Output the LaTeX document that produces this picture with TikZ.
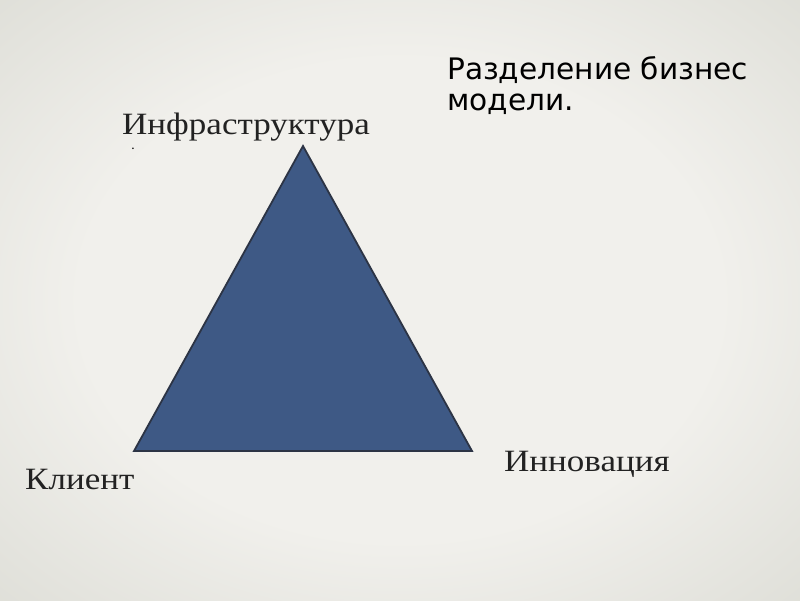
\documentclass[tikz,border=0pt]{standalone}
\usepackage{fontspec}
\setmainfont{Liberation Serif}[FakeStretch=1.13]
\newfontfamily\titlefont{DejaVu Sans}
\definecolor{bgmid}{HTML}{F1F0EC}
\definecolor{bgedge}{HTML}{CFD0C7}
\definecolor{bgcorner}{HTML}{BDBEB4}
\definecolor{trifill}{HTML}{3E5985}
\definecolor{triline}{HTML}{2C3445}
\definecolor{inktext}{HTML}{222222}
\pgfdeclareradialshading{slidebg}{\pgfpoint{0bp}{0bp}}{color(0bp)=(bgmid); color(20bp)=(bgmid); color(50bp)=(bgedge); color(71bp)=(bgcorner)}
\begin{document}
\begin{tikzpicture}[x=1pt,y=-1pt,
    cornertxt/.style={inner sep=0pt,anchor=base west,text=inktext,font=\fontsize{31}{36}\selectfont},
    titletxt/.style={inner sep=0pt,anchor=base west,align=left,text=black,font=\titlefont\fontsize{29.6}{31}\selectfont}]
      \useasboundingbox (0,0) rectangle (800,600);
      \shade [shading=slidebg] (0,0) rectangle (800,600);
      % triangle
      \coordinate (top) at (303,146);
      \coordinate (left) at (134,451);
      \coordinate (right) at (472,451);
      \draw [fill=trifill,draw=triline,line width=1.8pt,line join=miter] (top) -- (left) -- (right) -- cycle;
      % labels
      \node [cornertxt] (infra) at (122,134) {Инфраструктура};
      \node [inner sep=0pt,anchor=base,text=inktext,font=\bfseries\fontsize{10}{10}\selectfont] (dot) at (133,149) {.};
      \node [cornertxt] (client) at (25,489) {Клиент};
      \node [cornertxt] (innov) at (504,471) {Инновация};
      \node [titletxt] (title) at (447,110) {Разделение бизнес\\модели.};
\end{tikzpicture}
\end{document}
